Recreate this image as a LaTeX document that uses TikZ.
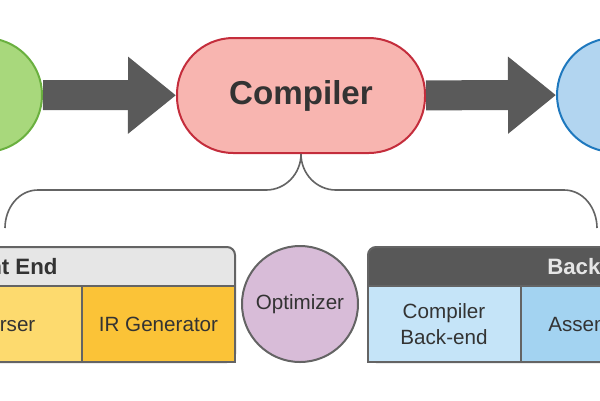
\documentclass[tikz,border=0pt]{standalone}
\usepackage{fontspec}
\setmainfont{Liberation Sans}
\usepackage{tikz}
\usetikzlibrary{arrows.meta}

\definecolor{greenfill}{RGB}{168,216,124}
\definecolor{greenline}{RGB}{106,176,63}
\definecolor{pillfill}{RGB}{248,181,176}
\definecolor{pillline}{RGB}{196,45,60}
\definecolor{bluefill}{RGB}{178,213,240}
\definecolor{blueline}{RGB}{30,120,190}
\definecolor{arrowgray}{RGB}{90,90,90}
\definecolor{boxgray}{RGB}{100,100,100}
\definecolor{headlight}{RGB}{230,230,230}
\definecolor{headdark}{RGB}{88,88,88}
\definecolor{parserfill}{RGB}{253,218,110}
\definecolor{irfill}{RGB}{251,195,55}
\definecolor{optfill}{RGB}{216,188,216}
\definecolor{cbefill}{RGB}{197,228,248}
\definecolor{asmfill}{RGB}{163,211,241}
\definecolor{textdark}{RGB}{51,51,51}

\tikzset{
  endpoint/.style={circle,draw,line width=1.6pt,minimum size=91.2pt,inner sep=0pt},
  pill/.style={rectangle,rounded corners=45pt,draw=pillline,fill=pillfill,line width=1.6pt,
    minimum width=198.4pt,minimum height=92pt,text=textdark,
    font=\fontsize{26.5}{30}\selectfont\bfseries},
  flowarrow/.style={draw=arrowgray,line width=24pt,
    -{Triangle[length=38.4pt,width=59.2pt]}},
  brace/.style={draw=boxgray,line width=1.3pt},
  groupbox/.style={rectangle,rounded corners=6.4pt,draw=boxgray,line width=1.6pt,
    minimum height=92pt,inner sep=0pt},
  grouplabel/.style={font=\fontsize{17.8}{20}\selectfont\bfseries},
  cell/.style={rectangle,draw=boxgray,line width=1.6pt,minimum width=122.4pt,
    minimum height=60.8pt,inner sep=0pt,align=center,text=textdark,
    font=\fontsize{16.5}{20.5}\selectfont},
}

\begin{document}
\begin{tikzpicture}[x=0.8pt,y=-0.8pt]
  \useasboundingbox (0,0) rectangle (600,400);
  \clip (0,0) rectangle (600,400);

  % top row
  \node[endpoint,draw=greenline,fill=greenfill] (source) at (-15,95) {};
  \node[pill] (compiler) at (301,95.5) {Compiler};
  \node[endpoint,draw=blueline,fill=bluefill] (target) at (614,95) {};
  \draw[flowarrow] (source) -- (compiler);
  \draw[flowarrow] (compiler) -- (target);

  % brace
  \coordinate (braceL) at (5,228);
  \coordinate (braceR) at (597,228);
  \draw[brace] (braceL) to[out=90,in=180] (38,190) -- (266,190)
    to[out=0,in=-90] (compiler.south) to[out=-90,in=180] (336,190)
    -- (564,190) to[out=0,in=90] (braceR);

  % front end
  \node[groupbox,fill=headlight,minimum width=368pt] (front) at (5,304.5) {};
  \node[grouplabel,text=textdark] (frontlabel) at (5,266.5) {Front End};
  \node[cell,fill=parserfill] (parser) at (5,324) {Parser};
  \node[cell,fill=irfill] (irgen) at (158.5,324) {IR Generator};

  % optimizer
  \node[circle,draw=boxgray,fill=optfill,line width=1.6pt,minimum size=92.8pt,
    inner sep=0pt,text=textdark,font=\fontsize{16.5}{20}\selectfont] (optimizer)
    at (300,304) {Optimizer};

  % back end
  \node[groupbox,fill=headdark,minimum width=368pt] (back) at (598,304.5) {};
  \node[grouplabel,text=headlight] (backlabel) at (598,266.5) {Back End};
  \node[cell,fill=cbefill] (cbackend) at (444,324) {Compiler\\Back-end};
  \node[cell,fill=asmfill] (assembler) at (597,324) {Assembler};
\end{tikzpicture}
\end{document}
